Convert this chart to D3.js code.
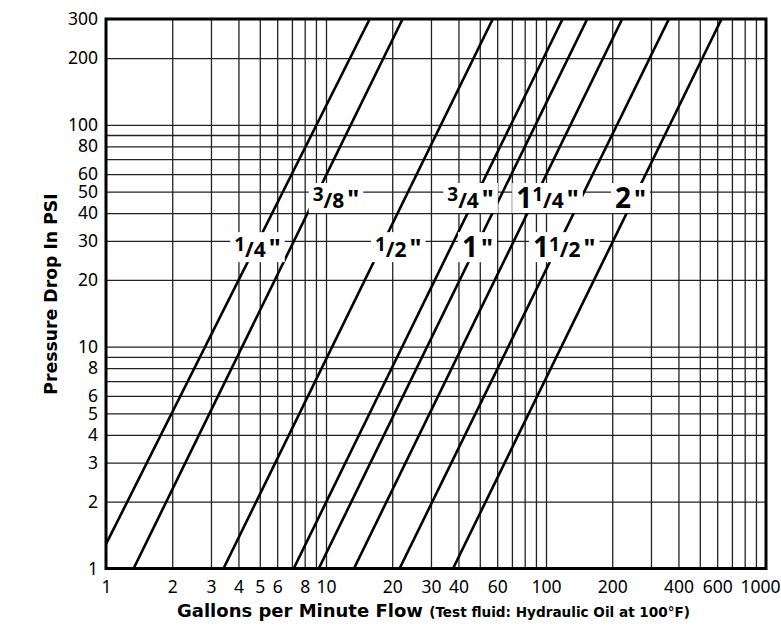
<!DOCTYPE html>
<html>
<head>
<meta charset="utf-8">
<script src="https://cdn.jsdelivr.net/npm/d3@7"></script>
<style>
  html, body { margin: 0; padding: 0; background: #fff; }
  svg { display: block; }
</style>
</head>
<body>
<svg id="chart" width="781" height="627"></svg>
<script>
// ---- data ----
const xGridValues = [2,3,4,5,6,7,8,9,10,20,30,40,50,60,70,80,90,100,200,300,400,500,600,700,800,900];
const yGridValues = [2,3,4,5,6,7,8,9,10,20,30,40,50,60,70,80,90,100,200];
const xTickLabels = [1,2,3,4,5,6,8,10,20,30,40,60,100,200,400,600,1000];
const yTickLabels = [1,2,3,4,5,6,8,10,20,30,40,50,60,80,100,200,300];

const hoseSizes   = ['1/4"','3/8"','1/2"','3/4"','1"','1 1/4"','1 1/2"','2"'];
const flowAt1psi   = [0.88, 1.335, 3.42, 7.13, 9.27, 13.4, 21.6, 37.8];
const flowAt300psi = [15.8, 22.3, 57.3, 119, 154, 222, 362, 628];

const labelWhole = ['', '', '', '', '1', '1', '1', '2'];
const labelNum   = ['1','3','1','3', '', '1', '1', ''];
const labelDen   = ['4','8','2','4', '', '4', '2', ''];
const labelFlow  = [4.88, 11.1, 21.3, 45.4, 48.8, 101.6, 121, 242];
const labelDrop  = [28.1, 46.8, 28.1, 46.8, 28.1, 46.8, 28.1, 46.8];

// ---- layout ----
const L = 106, R = 766, T = 19, B = 568.5;
const svg = d3.select('#chart');
const x = d3.scaleLog().domain([1, 1000]).range([L, R]);
const y = d3.scaleLog().domain([1, 300]).range([B, T]);
const font = '"Noto Sans", "Open Sans", sans-serif';
const titleFont = '"DejaVu Sans", sans-serif';

// grid
svg.append('g').attr('transform', `translate(0,${B})`)
  .call(d3.axisBottom(x).tickValues(xGridValues).tickSize(-(B - T)).tickFormat(''))
  .call(g => g.select('.domain').remove())
  .call(g => g.selectAll('line').attr('stroke', '#222').attr('stroke-width', 1.3));
svg.append('g').attr('transform', `translate(${L},0)`)
  .call(d3.axisLeft(y).tickValues(yGridValues).tickSize(-(R - L)).tickFormat(''))
  .call(g => g.select('.domain').remove())
  .call(g => g.selectAll('line').attr('stroke', '#222').attr('stroke-width', 1.3));

// data lines
svg.append('clipPath').attr('id', 'plotclip')
  .append('rect').attr('x', L).attr('y', T).attr('width', R - L).attr('height', B - T);
const line = d3.line().x(d => x(d[0])).y(d => y(d[1]));
svg.append('g').attr('clip-path', 'url(#plotclip)')
  .selectAll('path').data(hoseSizes.map((s, i) => [[flowAt1psi[i], 1], [flowAt300psi[i], 300]]))
  .join('path')
  .attr('d', line)
  .attr('fill', 'none').attr('stroke', '#000').attr('stroke-width', 2.6);

// labels
hoseSizes.forEach((s, i) => {
  const cx = x(labelFlow[i]);
  const base = y(labelDrop[i]) + 10;
  const g = svg.append('g');
  const rect = g.append('rect').attr('fill', '#fff');
  const t = g.append('text')
    .attr('x', cx).attr('y', base)
    .attr('text-anchor', 'middle')
    .attr('font-family', font).attr('font-weight', 'bold').attr('fill', '#000');
  if (labelWhole[i]) t.append('tspan').attr('font-size', 28).text(labelWhole[i]);
  if (labelNum[i]) {
    t.append('tspan').attr('font-size', 19).attr('dy', -6.5).text(labelNum[i]);
    t.append('tspan').attr('font-size', 21).attr('dy', 6.5).text('/' + labelDen[i]);
  }
  t.append('tspan').attr('font-size', 25).attr('dx', 3).text('"');
  const bb = t.node().getBBox();
  rect.attr('x', bb.x - 4).attr('y', base - 25)
    .attr('width', bb.width + 8).attr('height', 30);
});

// border
svg.append('rect').attr('x', L).attr('y', T).attr('width', R - L).attr('height', B - T)
  .attr('fill', 'none').attr('stroke', '#000').attr('stroke-width', 3);

// tick labels
svg.append('g').attr('transform', `translate(0,${B})`)
  .call(d3.axisBottom(x).tickValues(xTickLabels).tickSize(0).tickPadding(12).tickFormat(d3.format('d')))
  .call(g => g.select('.domain').remove())
  .call(g => g.selectAll('text').attr('font-family', font).attr('font-size', 17.5).attr('fill', '#000')
    .attr('dx', d => d === 1000 ? -6 : 0));
svg.append('g').attr('transform', `translate(${L},0)`)
  .call(d3.axisLeft(y).tickValues(yTickLabels).tickSize(0).tickPadding(8).tickFormat(d3.format('d')))
  .call(g => g.select('.domain').remove())
  .call(g => g.selectAll('text').attr('font-family', font).attr('font-size', 17.5).attr('fill', '#000'));

// axis titles
const xt = svg.append('text').attr('x', 177).attr('y', 617)
  .attr('font-family', titleFont).attr('font-weight', 'bold').attr('fill', '#000');
xt.append('tspan').attr('font-size', 18).text('Gallons per Minute Flow ');
xt.append('tspan').attr('font-size', 13.6).text('(Test fluid: Hydraulic Oil at 100°F)');

svg.append('text')
  .attr('transform', 'translate(57,294) rotate(-90)')
  .attr('text-anchor', 'middle')
  .attr('font-family', titleFont).attr('font-weight', 'bold').attr('font-size', 17.3).attr('fill', '#000')
  .text('Pressure Drop In PSI');
</script>
</body>
</html>
